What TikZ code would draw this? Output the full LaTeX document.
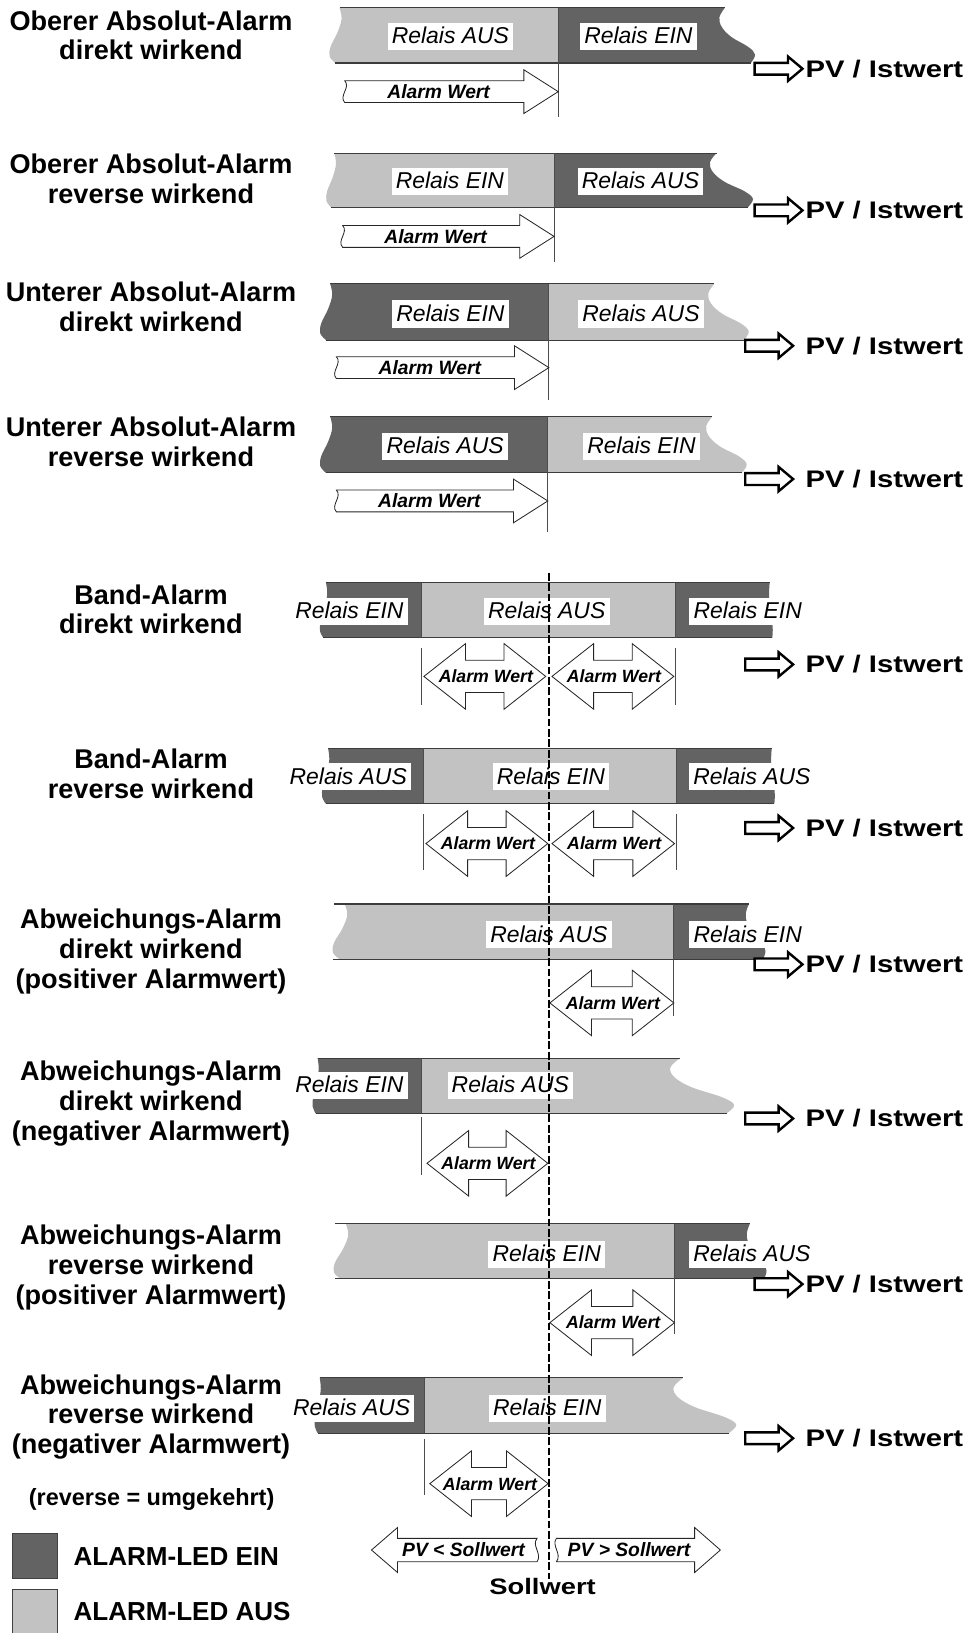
\documentclass[tikz,border=0pt]{standalone}
\usepackage{fontspec}
\setmainfont{Liberation Sans}
\newfontfamily\breitfont[FakeStretch=1.22]{Liberation Sans}
\usetikzlibrary{positioning, shapes.arrows}

\definecolor{ledein}{HTML}{636363}
\definecolor{ledaus}{HTML}{C2C2C2}
\definecolor{randgrau}{HTML}{3C3C3C}

\tikzset{
	titel/.style={
			align=center,
			inner sep=0pt,
			font=\fontsize{26}{28.6}\selectfont\bfseries
		},
	relais/.style={
			fill=white,
			inner xsep=4pt,
			inner ysep=3pt,
			text height=17pt,
			text depth=3pt,
			font=\fontsize{22}{24}\selectfont\itshape
		},
	werttext/.style={
			inner sep=0pt,
			font=\fontsize{17}{18}\selectfont\bfseries\itshape
		},
	werttextgross/.style={
			werttext,
			font=\fontsize{18.5}{19}\selectfont\bfseries\itshape
		},
	solltext/.style={
			werttext,
			font=\fontsize{18.5}{19}\selectfont\bfseries\itshape
		},
	wertpfeil/.style={
			draw=black!85,
			line width=0.8pt,
			fill=white
		},
	pvpfeil/.style={
			single arrow,
			draw=black,
			line width=2.3pt,
			fill=white,
			inner xsep=0pt,
			inner ysep=4.5pt,
			minimum width=0pt,
			minimum height=46pt,
			single arrow head extend=6pt,
			single arrow tip angle=80
		},
	pvtext/.style={
			inner sep=0pt,
			font=\fontsize{23}{25}\selectfont\breitfont\bfseries
		},
	rand/.style={draw=randgrau, line width=1pt},
	grenze/.style={draw=black!70, line width=0.9pt},
	sollinie/.style={draw=black, line width=1.6pt, dash pattern=on 7.5pt off 2.5pt},
	legende/.style={
			draw=black!75,
			line width=0.8pt,
			minimum size=43pt,
			inner sep=0pt
		},
	legtext/.style={
			inner sep=0pt,
			font=\fontsize{25}{27}\selectfont\bfseries
		}
}

% wavy ends of a bar: x, top, height, amplitude
\newcommand{\randR}[4]{-- plot[smooth, tension=.6] coordinates {(#1,#2) ({#1-.18*#4},{#2+.17*#3}) ({#1-.1*#4},{#2+.35*#3}) ({#1+.22*#4},{#2+.53*#3}) ({#1+.78*#4},{#2+.71*#3}) ({#1+#4},{#2+.85*#3}) ({#1+.86*#4},{#2+#3})}}
\newcommand{\randL}[4]{-- plot[smooth, tension=.6] coordinates {({#1-.4*#4},{#2+#3}) ({#1-.95*#4},{#2+.88*#3}) ({#1-.85*#4},{#2+.7*#3}) ({#1-.2*#4},{#2+.45*#3}) ({#1+.2*#4},{#2+.2*#3}) (#1,#2)}}
\newcommand{\balkenrand}[6]{%
  \draw[rand] (#1,#3) -- (#2,#3);
  \draw[rand] ({#1-.4*#5},{#3+#4}) -- ({#2+.86*#6},{#3+#4});
}
\newcommand{\wertrechts}[4]{%
  \draw[wertpfeil] (#2,#4-10.5) -- (#3-33,#4-10.5) -- (#3-33,#4-21) -- (#3,#4) -- (#3-33,#4+21) -- (#3-33,#4+10.5) -- (#2,#4+10.5) .. controls (#2-6,#4+4) and (#2+6,#4-4) .. cycle;
  \node[werttextgross] (#1) at ({#2+.44*(#3-#2)},#4) {Alarm Wert};
}
\newcommand{\wertdoppel}[4]{%
  \draw[wertpfeil] (#2,#4) -- (#2+40,#4-31.5) -- (#2+40,#4-15.5) -- (#3-40,#4-15.5) -- (#3-40,#4-31.5) -- (#3,#4) -- (#3-40,#4+31.5) -- (#3-40,#4+15.5) -- (#2+40,#4+15.5) -- (#2+40,#4+31.5) -- cycle;
  \node[werttext] (#1) at ({(#2+#3)/2+1},#4) {Alarm Wert};
}

\begin{document}
\begin{tikzpicture}[x=1pt, y=-1pt]
\useasboundingbox (0,0) rectangle (931,1568);

% Oberer Absolut-Alarm direkt
\node[titel] (titel1) at (145,34) {Oberer Absolut-Alarm\\direkt wirkend};
\fill[ledaus] (536,60.5) \randL{326}{7.5}{53}{10} -- (536,7.5) -- cycle;
\fill[ledein] (536,7.5) \randR{696}{7.5}{53}{29} -- (536,60.5) -- cycle;
\balkenrand{326}{696}{7.5}{53}{10}{29}
\draw[grenze] (536,7.5) -- (536,112);
\node[relais] (aus1) at (432.5,35) {Relais AUS};
\node[relais] (ein1) at (613,35) {Relais EIN};
\wertrechts{wert1}{331}{536}{88}
\node[pvtext, anchor=east] (pvt1) at (925,66) {PV / Istwert};
\node[pvpfeil, left=1pt of pvt1] (pv1) {};

% Oberer Absolut-Alarm reverse
\node[titel] (titel2) at (145,172) {Oberer Absolut-Alarm\\reverse wirkend};
\fill[ledaus] (532,199) \randL{321}{147}{52}{8} -- (532,147) -- cycle;
\fill[ledein] (532,147) \randR{688}{147}{52}{35} -- (532,199) -- cycle;
\balkenrand{321}{688}{147}{52}{8}{35}
\draw[grenze] (532,147) -- (532,252);
\node[relais] (ein2) at (432,174.4) {Relais EIN};
\node[relais] (aus2) at (615,174.4) {Relais AUS};
\wertrechts{wert2}{329}{532}{227}
\node[pvtext, anchor=east] (pvt2) at (925,202) {PV / Istwert};
\node[pvpfeil, left=1pt of pvt2] (pv2) {};

% Unterer Absolut-Alarm direkt
\node[titel] (titel3) at (145,294.4) {Unterer Absolut-Alarm\\direkt wirkend};
\fill[ledein] (527,326.5) \randL{317}{272.5}{54}{10} -- (527,272.5) -- cycle;
\fill[ledaus] (527,272.5) \randR{686}{272.5}{54}{33} -- (527,326.5) -- cycle;
\balkenrand{317}{686}{272.5}{54}{10}{33}
\draw[grenze] (527,272.5) -- (527,384);
\node[relais] (ein3) at (432.5,301.5) {Relais EIN};
\node[relais] (aus3) at (615.5,301.5) {Relais AUS};
\wertrechts{wert3}{323}{527}{353}
\node[pvtext, anchor=east] (pvt3) at (925,332) {PV / Istwert};
\node[pvpfeil, left=10pt of pvt3] (pv3) {};

% Unterer Absolut-Alarm reverse
\node[titel] (titel4) at (145,424) {Unterer Absolut-Alarm\\reverse wirkend};
\fill[ledein] (526,454) \randL{317}{400}{54}{10} -- (526,400) -- cycle;
\fill[ledaus] (526,400) \randR{684}{400}{54}{33} -- (526,454) -- cycle;
\balkenrand{317}{684}{400}{54}{10}{33}
\draw[grenze] (526,400) -- (526,511);
\node[relais] (aus4) at (427.5,428.8) {Relais AUS};
\node[relais] (ein4) at (616,428.8) {Relais EIN};
\wertrechts{wert4}{323}{526}{481}
\node[pvtext, anchor=east] (pvt4) at (925,460) {PV / Istwert};
\node[pvpfeil, left=10pt of pvt4] (pv4) {};

% Band-Alarm direkt
\node[titel] (titel5) at (145,585) {Band-Alarm\\direkt wirkend};
\fill[ledein] (405,612.5) \randL{313}{559.5}{53}{6} -- (405,559.5) -- cycle;
\fill[ledaus] (405,559.5) rectangle (649,612.5);
\fill[ledein] (649,559.5) \randR{739}{559.5}{53}{3} -- (649,612.5) -- cycle;
\balkenrand{313}{739}{559.5}{53}{6}{3}
\draw[grenze] (405,559.5) -- (405,612.5) (649,559.5) -- (649,612.5);
\draw[grenze] (405,622) -- (405,677) (649,622) -- (649,677);
\node[relais] (ein5a) at (335.5,587) {Relais EIN};
\node[relais] (aus5) at (525,587) {Relais AUS};
\node[relais] (ein5b) at (718,587) {Relais EIN};
\wertdoppel{wert5a}{407}{524}{649.5}
\wertdoppel{wert5b}{530}{647}{649.5}
\node[pvtext, anchor=east] (pvt5) at (925,638) {PV / Istwert};
\node[pvpfeil, left=10pt of pvt5] (pv5) {};

% Band-Alarm reverse
\node[titel] (titel6) at (145,743) {Band-Alarm\\reverse wirkend};
\fill[ledein] (407,771.5) \randL{315}{718.5}{53}{6} -- (407,718.5) -- cycle;
\fill[ledaus] (407,718.5) rectangle (650,771.5);
\fill[ledein] (650,718.5) \randR{741}{718.5}{53}{3} -- (650,771.5) -- cycle;
\balkenrand{315}{741}{718.5}{53}{6}{3}
\draw[grenze] (407,718.5) -- (407,771.5) (650,718.5) -- (650,771.5);
\draw[grenze] (407,782) -- (407,835) (650,782) -- (650,835);
\node[relais] (aus6a) at (334.4,746) {Relais AUS};
\node[relais] (ein6) at (529,746) {Relais EIN};
\node[relais] (aus6b) at (722,746) {Relais AUS};
\wertdoppel{wert6a}{409}{526}{810}
\wertdoppel{wert6b}{530}{647.7}{810}
\node[pvtext, anchor=east] (pvt6) at (925,795) {PV / Istwert};
\node[pvpfeil, left=10pt of pvt6] (pv6) {};

% Abweichungs-Alarm direkt, positiv
\node[titel] (titel7) at (145,913.7) {Abweichungs-Alarm\\direkt wirkend\\(positiver Alarmwert)};
\fill[ledaus] (647,921) \randL{331}{868}{53}{12} -- (647,868) -- cycle;
\fill[ledein] (647,868) \randR{719}{868}{53}{16} -- (647,921) -- cycle;
\balkenrand{321}{719}{868}{53}{2}{16}
\draw[grenze] (647,868) -- (647,976);
\node[relais] (aus7) at (527,897.6) {Relais AUS};
\node[relais] (ein7) at (718,897.6) {Relais EIN};
\wertdoppel{wert7}{528}{647}{963}
\node[pvtext, anchor=east] (pvt7) at (925,926) {PV / Istwert};
\node[pvpfeil, left=1pt of pvt7] (pv7) {};

% Abweichungs-Alarm direkt, negativ
\node[titel] (titel8) at (145,1059.7) {Abweichungs-Alarm\\direkt wirkend\\(negativer Alarmwert)};
\fill[ledein] (405,1069) \randL{305}{1016}{53}{5} -- (405,1016) -- cycle;
\fill[ledaus] (405,1016) \randR{653}{1016}{53}{52} -- (405,1069) -- cycle;
\balkenrand{305}{653}{1016}{53}{5}{52}
\draw[grenze] (405,1016) -- (405,1069);
\draw[grenze] (405,1073) -- (405,1128);
\node[relais] (ein8) at (335.5,1042) {Relais EIN};
\node[relais] (aus8) at (490,1042) {Relais AUS};
\wertdoppel{wert8}{410}{526}{1117}
\node[pvtext, anchor=east] (pvt8) at (925,1074) {PV / Istwert};
\node[pvpfeil, left=10pt of pvt8] (pv8) {};

% Abweichungs-Alarm reverse, positiv
\node[titel] (titel9) at (145,1217) {Abweichungs-Alarm\\reverse wirkend\\(positiver Alarmwert)};
\fill[ledaus] (648,1228) \randL{332}{1175}{53}{12} -- (648,1175) -- cycle;
\fill[ledein] (648,1175) \randR{720}{1175}{53}{16} -- (648,1228) -- cycle;
\balkenrand{322}{720}{1175}{53}{2}{16}
\draw[grenze] (648,1175) -- (648,1281);
\node[relais] (ein9) at (525,1204.5) {Relais EIN};
\node[relais] (aus9) at (722,1204.5) {Relais AUS};
\wertdoppel{wert9}{528}{647.7}{1270}
\node[pvtext, anchor=east] (pvt9) at (925,1233) {PV / Istwert};
\node[pvpfeil, left=1pt of pvt9] (pv9) {};

% Abweichungs-Alarm reverse, negativ
\node[titel] (titel10) at (145,1360.5) {Abweichungs-Alarm\\reverse wirkend\\(negativer Alarmwert)};
\fill[ledein] (408,1376) \randL{307}{1323}{53}{5} -- (408,1323) -- cycle;
\fill[ledaus] (408,1323) \randR{656}{1323}{53}{51} -- (408,1376) -- cycle;
\balkenrand{307}{656}{1323}{53}{5}{51}
\draw[grenze] (408,1323) -- (408,1376);
\draw[grenze] (408,1382) -- (408,1435);
\node[relais] (aus10) at (337.7,1352) {Relais AUS};
\node[relais] (ein10) at (525.5,1352) {Relais EIN};
\wertdoppel{wert10}{412.7}{526.3}{1424.6}
\node[pvtext, anchor=east] (pvt10) at (925,1381) {PV / Istwert};
\node[pvpfeil, left=10pt of pvt10] (pv10) {};

% Sollwert
\draw[wertpfeil] (356.7,1488.3) -- (381.7,1466.7) -- (381.7,1477.1) -- (515.7,1477.1) .. controls (510,1484) and (521,1492) .. (515.7,1499.5) -- (381.7,1499.5) -- (381.7,1509.9) -- cycle;
\node[solltext] (kleiner) at (445,1488.3) {PV < Sollwert};
\draw[wertpfeil] (691.7,1488.3) -- (667,1466.7) -- (667,1477.1) -- (534.3,1477.1) .. controls (529,1484) and (540,1492) .. (534.3,1499.5) -- (667,1499.5) -- (667,1509.9) -- cycle;
\node[solltext] (groesser) at (604,1488.3) {PV > Sollwert};
\draw[sollinie] (527,550) -- (527,1516);
\node[pvtext, font=\fontsize{21.5}{23}\selectfont\breitfont\bfseries] (sollwert) at (521,1523) {Sollwert};

% Legende
\node[inner sep=0pt, font=\fontsize{22.5}{24}\selectfont\bfseries] (hinweis) at (145.6,1440) {(reverse = umgekehrt)};
\node[legende, fill=ledein] (led1) at (33.6,1494.3) {};
\node[legtext, right=15pt of led1] (led1text) {ALARM-LED EIN};
\node[legende, fill=ledaus] (led2) at (33.6,1547.5) {};
\node[legtext, right=15pt of led2] (led2text) {ALARM-LED AUS};
\end{tikzpicture}
\end{document}
